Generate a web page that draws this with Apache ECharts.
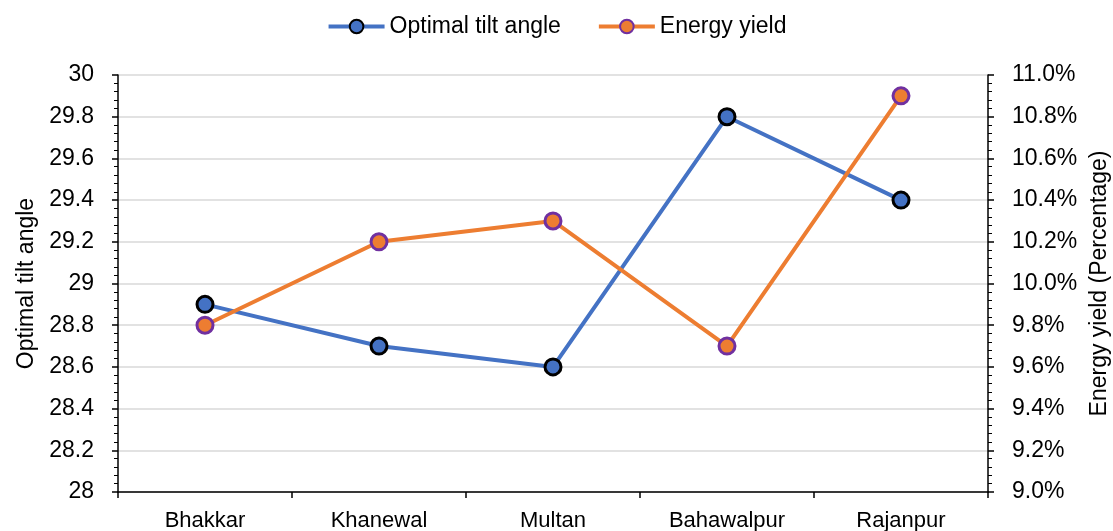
<!DOCTYPE html>
<html>
<head>
<meta charset="utf-8">
<script src="https://cdn.jsdelivr.net/npm/echarts@6/dist/echarts.min.js"></script>
<style>
  html, body { margin: 0; padding: 0; background: #fff; }
  #chart { width: 1113px; height: 531px; }
</style>
</head>
<body>
<div id="chart"></div>
<script>
var categories = ['Bhakkar', 'Khanewal', 'Multan', 'Bahawalpur', 'Rajanpur'];
var tiltAngle = [28.9, 28.7, 28.6, 29.8, 29.4];
var energyYield = [9.8, 10.2, 10.3, 9.7, 10.9];

var myChart = echarts.init(document.getElementById('chart'));
var font = 'Liberation Sans, Arial, sans-serif';
var option = {
    textStyle: { fontFamily: font },
    animation: false,
    legend: {
        top: 10,
        left: 'center',
        itemWidth: 56,
        itemHeight: 17,
        itemGap: 36,
        lineStyle: { width: 4 },
        textStyle: { fontSize: 23, color: '#000', fontFamily: font },
        data: ['Optimal tilt angle', 'Energy yield']
    },
    grid: {
        left: 118,
        right: 125,
        top: 75,
        bottom: 39,
        containLabel: false,
        outerBoundsMode: 'none'
    },
    xAxis: {
        type: 'category',
        data: categories,
        boundaryGap: true,
        axisLine: { lineStyle: { color: '#000', width: 1.5 } },
        axisTick: { show: true, length: 6, lineStyle: { color: '#000', width: 1.5 } },
        axisLabel: { color: '#000', fontSize: 22, margin: 18, fontFamily: font }
    },
    yAxis: [
        {
            type: 'value',
            min: 28,
            max: 30,
            interval: 0.2,
            name: 'Optimal tilt angle',
            nameLocation: 'middle',
            nameGap: 80,
            nameRotate: 90,
            nameTextStyle: { color: '#000', fontSize: 23, fontFamily: font },
            axisLine: { show: true, lineStyle: { color: '#000', width: 1.5 } },
            axisTick: { show: true, length: 6, lineStyle: { color: '#000', width: 1.5 } },
            minorTick: { show: true, splitNumber: 5, length: 4, lineStyle: { color: '#000', width: 1 } },
            splitLine: { show: true, lineStyle: { color: '#d9d9d9', width: 1.5 } },
            axisLabel: {
                color: '#000', fontSize: 23, margin: 24, fontFamily: font,
                formatter: function (v) { return +v.toFixed(1) + ''; }
            }
        },
        {
            type: 'value',
            min: 9,
            max: 11,
            interval: 0.2,
            position: 'right',
            name: 'Energy yield (Percentage)',
            nameLocation: 'middle',
            nameGap: 100,
            nameRotate: 90,
            nameTextStyle: { color: '#000', fontSize: 23, fontFamily: font },
            axisLine: { show: true, lineStyle: { color: '#000', width: 1.5 } },
            axisTick: { show: true, length: 6, lineStyle: { color: '#000', width: 1.5 } },
            minorTick: { show: true, splitNumber: 5, length: 4, lineStyle: { color: '#000', width: 1 } },
            splitLine: { show: false },
            axisLabel: {
                color: '#000', fontSize: 23, margin: 24, fontFamily: font,
                formatter: function (v) { return v.toFixed(1) + '%'; }
            }
        }
    ],
    series: [
        {
            name: 'Optimal tilt angle',
            type: 'line',
            yAxisIndex: 0,
            data: tiltAngle,
            symbol: 'circle',
            symbolSize: 16,
            lineStyle: { color: '#4472C4', width: 4 },
            itemStyle: { color: '#4472C4', borderColor: '#000', borderWidth: 3 }
        },
        {
            name: 'Energy yield',
            type: 'line',
            yAxisIndex: 1,
            data: energyYield,
            symbol: 'circle',
            symbolSize: 16,
            lineStyle: { color: '#ED7D31', width: 4 },
            itemStyle: { color: '#ED7D31', borderColor: '#7030A0', borderWidth: 3 }
        }
    ]
};
myChart.setOption(option);
</script>
</body>
</html>
